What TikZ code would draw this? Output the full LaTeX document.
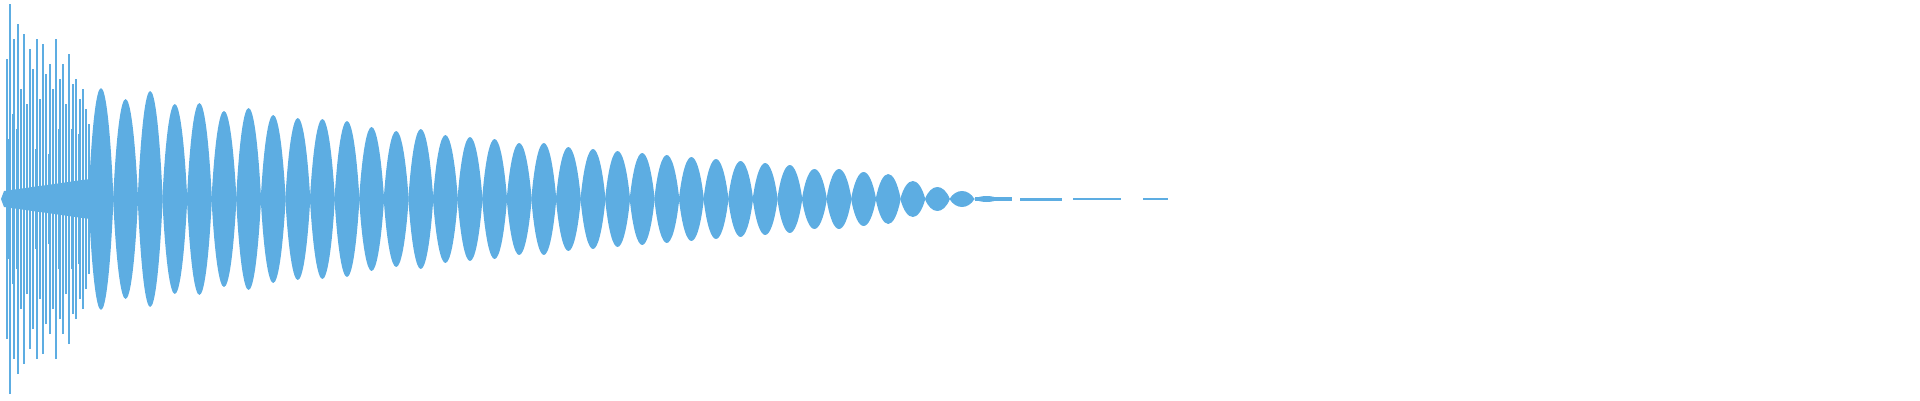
\documentclass[tikz,border=0pt]{standalone}
\definecolor{wave}{RGB}{93,173,226}
\begin{document}
\begin{tikzpicture}[x=1pt,y=1pt,lobe/.style={fill=wave,draw=none},spike/.style={draw=wave,line width=1.7pt}]
\useasboundingbox (0,0) rectangle (1920,400);
\coordinate (c) at (0,201);
% dense early spikes
\fill[wave] (1,201) -- (4,193) -- (90,181) -- (90,221) -- (4,209) -- cycle;
\foreach \x/\a in {7/140,10/195,14/160,18/175,21/110,24/165,27/95,30/150,33/130,37/160,40/100,43/155,46/125,50/135,53/110,56/160,60/120,63/135,66/95,69/145,73/115,76/120,80/100,83/110,86/90,89/75}
  \draw[spike] (\x,201-\a) -- (\x,201+\a);
\foreach \x/\a in {8/60,12/85,16/70,20/90,23/60,26/80,29/55,32/75,35/50,39/70,42/55,45/75,48/45,52/70,55/60,58/70,62/50,65/75,68/45,71/70,75/50,78/65,82/45,85/55}
  \draw[spike,line width=1pt] (\x,201-\a) -- (\x,201+\a);
% lobes
\foreach \k/\a in {0/111,1/100,2/108,3/95,4/96,5/88,6/91,7/84,8/81,9/80,10/78,11/72,12/68,13/70,14/64,15/62,16/60,17/56,18/56,19/52,20/50,21/48,22/46,23/44,24/42,25/40,26/38,27/36,28/34,29/30,30/30,31/27,32/25,33/18,34/12,35/8,36/3}{
  \pgfmathsetmacro{\cx}{101+24.6*\k}
  \pgfmathsetmacro{\h}{1.333*\a}
  \fill[lobe] (\cx-12.5,201) .. controls (\cx-6,201+\h) and (\cx+6,201+\h) .. (\cx+12.5,201)
     .. controls (\cx+6,201-\h) and (\cx-6,201-\h) .. cycle;
}
% tail
\fill[wave] (975,199) rectangle (1012,203);
\fill[wave] (1020,199.5) rectangle (1062,202.5);
\fill[wave] (1073,200) rectangle (1121,202);
\fill[wave] (1143,200) rectangle (1168,202);
\end{tikzpicture}
\end{document}
